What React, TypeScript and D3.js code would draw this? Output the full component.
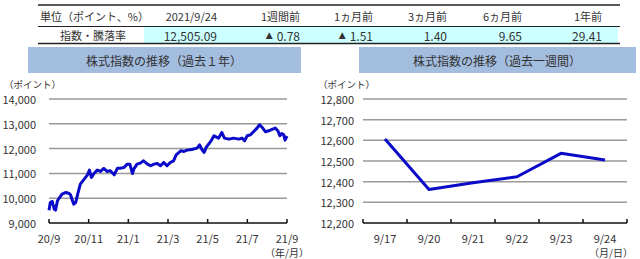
import React from 'react';
import * as d3 from 'd3';

const headerLabels = ['単位（ポイント、%）', '2021/9/24', '1週間前', '1ヵ月前', '3ヵ月前', '6ヵ月前', '1年前'];
const rowLabel = '指数・騰落率';
const rowValues = ['12,505.09', '▲ 0.78', '▲ 1.51', '1.40', '9.65', '29.41'];

const yearTitle = '株式指数の推移（過去１年）';
const weekTitle = '株式指数の推移（過去一週間）';

// day offset from 2020/9/24, index value
const yearDays = [0, 2, 5, 8, 10, 13, 17, 20, 26, 31, 33, 36, 38, 41, 44, 48, 54, 59, 62, 65, 69, 74, 79, 84, 89, 94, 100, 105, 110, 115, 120, 124, 128, 130, 135, 140, 145, 151, 156, 161, 166, 171, 176, 181, 186, 191, 195, 202, 207, 212, 219, 227, 231, 235, 238, 241, 248, 253, 260, 265, 269, 276, 283, 291, 296, 300, 304, 309, 314, 319, 323, 327, 332, 337, 342, 347, 351, 354, 357, 360, 362, 365];
const yearValues = [9519, 9828, 9869, 9559, 9519, 9895, 10057, 10164, 10231, 10191, 10137, 9895, 9761, 9828, 10164, 10567, 10769, 10944, 11132, 10836, 10997, 11132, 11078, 11199, 11078, 11105, 10944, 11212, 11212, 11239, 11374, 11374, 10997, 11172, 11374, 11414, 11508, 11374, 11307, 11374, 11401, 11307, 11441, 11307, 11441, 11508, 11750, 11911, 11884, 11938, 11965, 12019, 12153, 11938, 11844, 12046, 12288, 12516, 12422, 12651, 12422, 12382, 12422, 12382, 12422, 12315, 12516, 12556, 12691, 12825, 12960, 12852, 12678, 12718, 12772, 12825, 12718, 12516, 12610, 12556, 12342, 12505];
const yearTickLabels = ['20/9', '20/11', '21/1', '21/3', '21/5', '21/7', '21/9'];
const yearYTicks = [9000, 10000, 11000, 12000, 13000, 14000];

const weekDates = ['9/17', '9/20', '9/21', '9/22', '9/23', '9/24'];
const weekValues = [12606, 12362, 12395, 12424, 12537, 12505.09];
const weekYTicks = [12200, 12300, 12400, 12500, 12600, 12700, 12800];

const FONT = '"Noto Sans CJK JP", "Noto Sans", sans-serif';
const LINE = '#0a0ac8';
const TEXT = '#333';

export default function App() {
  const colRight = [217, 300, 373, 447, 522, 602];

  // left chart
  const xY = d3.scaleLinear().domain([0, 365]).range([49, 287]);
  const yY = d3.scaleLinear().domain([9000, 14000]).range([223, 99]);
  const yearTickPos = yearTickLabels.map((_, i) => (i * 365) / (yearTickLabels.length - 1));
  const yearLine = d3
    .line<number>()
    .x((_, i) => xY(yearDays[i]))
    .y((d) => yY(d))(yearValues);

  // right chart
  const xW = d3.scaleBand<string>().domain(weekDates).range([363, 627]);
  const yW = d3.scaleLinear().domain([12200, 12800]).range([223, 99]);
  const weekLine = d3
    .line<number>()
    .x((_, i) => (xW(weekDates[i]) as number) + xW.bandwidth() / 2)
    .y((d) => yW(d))(weekValues);

  const renderValue = (v: string) => {
    if (v.startsWith('▲')) {
      return (
        <>
          <tspan fontFamily='"DejaVu Sans", sans-serif' fontSize={9}>▲</tspan>
          <tspan dx={4}>{v.slice(1).trim()}</tspan>
        </>
      );
    }
    return v;
  };

  return (
    <svg
      width={640}
      height={259}
      style={{ position: 'absolute', left: 0, top: 0, background: '#fff' }}
      fontFamily={FONT}
    >
      <rect x={0} y={0} width={640} height={259} fill="#fff" />
      {/* table */}
      <rect x={144} y={27} width={474} height={16.5} fill="#ccffff" />
      <line x1={38} x2={620} y1={5} y2={5} stroke="#222" strokeWidth={1.5} />
      <line x1={38} x2={620} y1={26.5} y2={26.5} stroke="#222" strokeWidth={1} />
      <line x1={38} x2={620} y1={43.5} y2={43.5} stroke="#222" strokeWidth={1.5} />
      <text x={40} y={16} fontSize={11} fill={TEXT} dominantBaseline="central">
        {headerLabels[0]}
      </text>
      {headerLabels.slice(1).map((h, i) => (
        <text key={h} x={colRight[i]} y={16} fontSize={11} fill={TEXT} textAnchor="end" dominantBaseline="central">
          {h}
        </text>
      ))}
      <text x={93} y={35} fontSize={11} fill={TEXT} textAnchor="middle" dominantBaseline="central">
        {rowLabel}
      </text>
      {rowValues.map((v, i) => (
        <text key={i} x={colRight[i]} y={35} fontSize={12} fill={TEXT} textAnchor="end" dominantBaseline="central">
          {renderValue(v)}
        </text>
      ))}

      {/* title boxes */}
      <rect x={28} y={47} width={273} height={26} fill="#a3bddf" />
      <text x={164} y={60.5} fontSize={12} fill={TEXT} textAnchor="middle" dominantBaseline="central">
        {yearTitle}
      </text>
      <rect x={359} y={47} width={277} height={26} fill="#a3bddf" />
      <text x={497} y={60.5} fontSize={12} fill={TEXT} textAnchor="middle" dominantBaseline="central">
        {weekTitle}
      </text>

      {/* left chart */}
      <text x={4} y={84} fontSize={9.5} fill={TEXT} dominantBaseline="central">（ポイント）</text>
      {yearYTicks.map((t) => (
        <g key={t}>
          {t !== yearYTicks[0] && (
            <line x1={49} x2={287} y1={yY(t)} y2={yY(t)} stroke="#999" strokeWidth={1.5} />
          )}
          <text x={36} y={yY(t)} fontSize={11} fill={TEXT} textAnchor="end" dominantBaseline="central">
            {d3.format(',')(t)}
          </text>
        </g>
      ))}
      <line x1={49} x2={287} y1={yY(9000)} y2={yY(9000)} stroke="#111" strokeWidth={1.5} />
      {yearTickPos.map((p, i) => (
        <g key={i}>
          <line x1={xY(p)} x2={xY(p)} y1={yY(9000) - 4} y2={yY(9000)} stroke="#111" strokeWidth={1.5} />
          <text x={xY(p)} y={238} fontSize={11} fill={TEXT} textAnchor="middle" dominantBaseline="central">
            {yearTickLabels[i]}
          </text>
        </g>
      ))}
      <text x={287} y={252} fontSize={10} fill={TEXT} textAnchor="middle" dominantBaseline="central">（年/月）</text>
      <path d={yearLine || ''} fill="none" stroke={LINE} strokeWidth={3} strokeLinejoin="round" />

      {/* right chart */}
      <text x={318} y={84} fontSize={9.5} fill={TEXT} dominantBaseline="central">（ポイント）</text>
      {weekYTicks.map((t) => (
        <g key={t}>
          {t !== weekYTicks[0] && (
            <line x1={363} x2={627} y1={yW(t)} y2={yW(t)} stroke="#999" strokeWidth={1.5} />
          )}
          <text x={354} y={yW(t)} fontSize={11} fill={TEXT} textAnchor="end" dominantBaseline="central">
            {d3.format(',')(t)}
          </text>
        </g>
      ))}
      <line x1={363} x2={627} y1={yW(12200)} y2={yW(12200)} stroke="#111" strokeWidth={1.5} />
      {[...weekDates.map((d) => xW(d) as number), 627].map((x, i) => (
        <line key={i} x1={x} x2={x} y1={yW(12200) - 4} y2={yW(12200)} stroke="#111" strokeWidth={1.5} />
      ))}
      {weekDates.map((d) => (
        <text
          key={d}
          x={(xW(d) as number) + xW.bandwidth() / 2}
          y={238}
          fontSize={11}
          fill={TEXT}
          textAnchor="middle"
          dominantBaseline="central"
        >
          {d}
        </text>
      ))}
      <text x={611} y={252} fontSize={10} fill={TEXT} textAnchor="middle" dominantBaseline="central">（月/日）</text>
      <path d={weekLine || ''} fill="none" stroke={LINE} strokeWidth={3} strokeLinejoin="round" />
    </svg>
  );
}
